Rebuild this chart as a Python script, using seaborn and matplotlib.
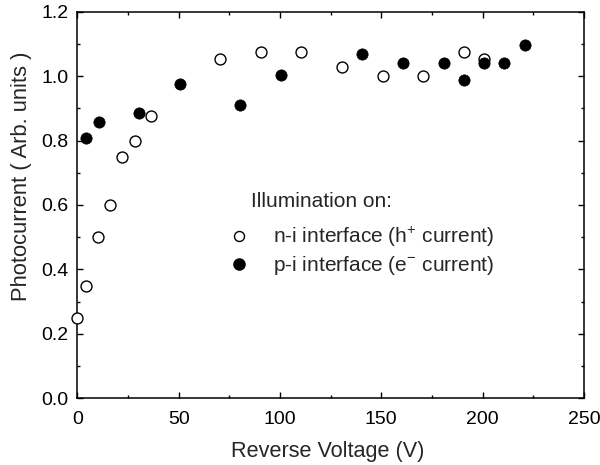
import numpy as np
import pandas as pd
import matplotlib
matplotlib.use("Agg")
import matplotlib.pyplot as plt
import seaborn as sns
from matplotlib.lines import Line2D

# n-i interface (h+ current), open circles
ni_voltage = [0, 4.2, 10.4, 16.2, 22.3, 28.6, 36.3, 70.6, 90.4, 110.6, 130.5, 150.7, 170.6, 190.6, 200.7]
ni_current = [0.250, 0.347, 0.502, 0.600, 0.750, 0.800, 0.876, 1.053, 1.076, 1.076, 1.027, 1.001, 1.000, 1.076, 1.053]

# p-i interface (e- current), filled circles
pi_voltage = [4.3, 10.6, 30.4, 50.5, 80.5, 100.7, 140.5, 160.6, 180.7, 190.6, 200.7, 210.6, 220.8]
pi_current = [0.807, 0.859, 0.885, 0.976, 0.911, 1.003, 1.068, 1.041, 1.041, 0.988, 1.040, 1.040, 1.095]

legend_title = "Illumination on:"
ni_label = "n-i interface (h$^{+}$ current)"
pi_label = "p-i interface (e$^{-}$ current)"

sns.set_style("white")
plt.rcParams['font.family'] = ['Liberation Sans', 'DejaVu Sans']
plt.rcParams['mathtext.fontset'] = 'custom'
plt.rcParams['mathtext.rm'] = 'Liberation Sans'

fig = plt.figure(figsize=(6, 4.65), dpi=100)
ax = fig.add_axes([0.1288, 0.1434, 0.9733 - 0.1288, 0.975 - 0.1434])

df_ni = pd.DataFrame({"V": ni_voltage, "I": ni_current})
df_pi = pd.DataFrame({"V": pi_voltage, "I": pi_current})

sns.scatterplot(data=df_ni, x="V", y="I", ax=ax, marker="o", s=62,
                facecolor="white", edgecolor="black", linewidth=1.0, zorder=3, clip_on=False)
sns.scatterplot(data=df_pi, x="V", y="I", ax=ax, marker="o", s=66,
                color="black", edgecolor="black", linewidth=0.5, zorder=4, clip_on=False)

ax.set_xlim(0, 250)
ax.set_ylim(0, 1.2)
ax.set_xticks(np.arange(0, 251, 50))
ax.set_xticks(np.arange(0, 251, 25), minor=True)
ax.set_yticks(np.arange(0, 1.21, 0.2))
ax.set_yticks(np.arange(0, 1.21, 0.1), minor=True)
ax.set_yticklabels([f"{v:.1f}" for v in np.arange(0, 1.21, 0.2)])
ax.tick_params(which="both", direction="in", top=True, right=True, bottom=True, left=True,
               labelsize=14, width=1.0, colors="black")
ax.tick_params(axis="y", pad=6.5)
ax.tick_params(axis="x", pad=9)
ax.tick_params(which="major", length=4)
ax.tick_params(which="minor", length=2.5)
for sp in ax.spines.values():
    sp.set_linewidth(1.1)
    sp.set_color("black")

ax.set_xlabel("Reverse Voltage (V)", fontsize=15.6)
ax.set_ylabel("Photocurrent ( Arb. units )", fontsize=15.8)
ax.xaxis.set_label_coords(0.494, -0.111)
ax.yaxis.set_label_coords(-0.0895, 0.575)

ax.text(0.343, 0.510, legend_title, transform=ax.transAxes, fontsize=15,
        ha="left", va="center")

handles = [
    Line2D([], [], marker="o", linestyle="none", markersize=7.2, markerfacecolor="white",
           markeredgecolor="black", markeredgewidth=1.0),
    Line2D([], [], marker="o", linestyle="none", markersize=8, markerfacecolor="black",
           markeredgecolor="black"),
]
leg = ax.legend(handles, [ni_label, pi_label], frameon=False,
                loc="center left", bbox_to_anchor=(0.242, 0.381), fontsize=15,
                handlelength=2.0, handletextpad=0.6, labelspacing=0.25, borderpad=0.4)

fig.savefig("out.png", dpi=100)
